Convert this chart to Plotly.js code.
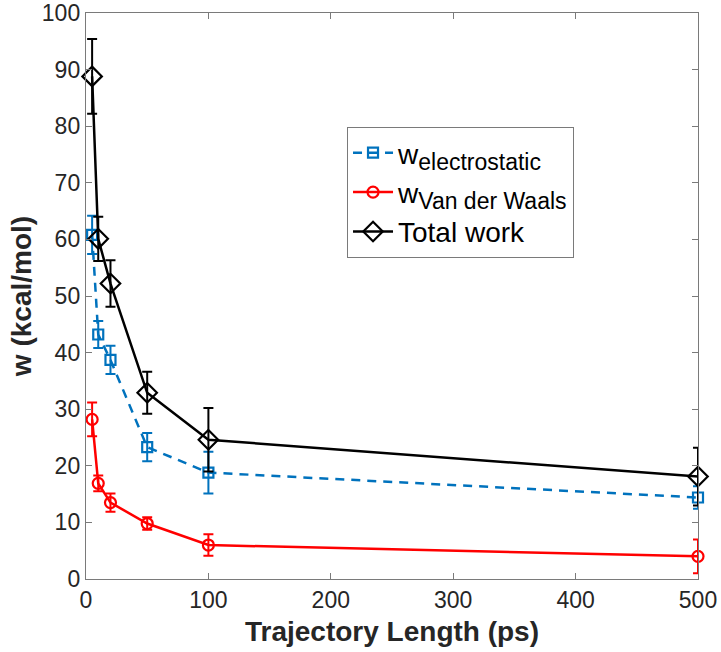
<!DOCTYPE html>
<html>
<head>
<meta charset="utf-8">
<script src="https://cdn.plot.ly/plotly-3.0.1.min.js"></script>
<style>html,body{margin:0;padding:0;background:#fff;}#chart{width:721px;height:652px;}</style>
</head>
<body>
<div id="chart"></div>
<script>
// Trajectory lengths (ps)
const trajLength = [5, 10, 20, 50, 100, 500];

// w electrostatic (kcal/mol) and error
const wElec = [60.8, 43.2, 38.7, 23.3, 18.8, 14.4];
const wElecErr = [3.4, 2.4, 2.5, 2.5, 3.7, 2.0];

// w Van der Waals (kcal/mol) and error
const wVdw = [28.2, 16.9, 13.5, 9.8, 6.0, 4.0];
const wVdwErr = [3.0, 1.4, 1.6, 1.1, 1.9, 3.0];

// Total work (kcal/mol) and error
const wTotal = [88.8, 60.1, 52.2, 32.9, 24.6, 18.1];
const wTotalErr = [6.6, 3.9, 4.1, 3.7, 5.6, 5.1];

const xTicks = [0, 100, 200, 300, 400, 500];
const yTicks = [0, 10, 20, 30, 40, 50, 60, 70, 80, 90, 100];

const seriesNames = [
  'w<sub><span style="font-size:23px">electrostatic</span></sub>',
  'w<sub><span style="font-size:23px">Van der Waals</span></sub>',
  'Total work'
];

const FONT = 'Liberation Sans, Arial, Helvetica, sans-serif';

const traces = [
  {
    x: trajLength, y: wElec, type: 'scatter', mode: 'lines+markers', cliponaxis: false,
    name: seriesNames[0],
    line: {color: '#0072BD', width: 2.5, dash: '9px,7px'},
    marker: {symbol: 'square-open', size: 10, color: '#0072BD', line: {width: 2.2}},
    error_y: {type: 'data', array: wElecErr, visible: true, color: '#0072BD', thickness: 2, width: 5}
  },
  {
    x: trajLength, y: wVdw, type: 'scatter', mode: 'lines+markers', cliponaxis: false,
    name: seriesNames[1],
    line: {color: '#FF0000', width: 2.5},
    marker: {symbol: 'circle-open', size: 11, color: '#FF0000', line: {width: 2.2}},
    error_y: {type: 'data', array: wVdwErr, visible: true, color: '#FF0000', thickness: 2, width: 5}
  },
  {
    x: trajLength, y: wTotal, type: 'scatter', mode: 'lines+markers', cliponaxis: false,
    name: seriesNames[2],
    line: {color: '#000000', width: 2.5},
    marker: {symbol: 'diamond-open', size: 15, color: '#000000', line: {width: 2.2}},
    error_y: {type: 'data', array: wTotalErr, visible: true, color: '#000000', thickness: 2, width: 5}
  }
];

const axisCommon = {
  showline: true, linecolor: '#7a7a7a', linewidth: 1.2, mirror: 'ticks',
  ticks: 'inside', ticklen: 6, tickcolor: '#7a7a7a', tickwidth: 1,
  showgrid: false, zeroline: false,
  tickfont: {family: FONT, size: 23, color: '#262626'}
};

const layout = {
  width: 721, height: 652,
  margin: {l: 86, r: 23, t: 13, b: 73},
  paper_bgcolor: '#ffffff', plot_bgcolor: '#ffffff',
  showlegend: true,
  xaxis: Object.assign({}, axisCommon, {
    range: [0, 500], tickvals: xTicks, ticktext: xTicks.map(String),
    title: {text: '<b>Trajectory Length (ps)</b>', font: {family: FONT, size: 28, color: '#262626'}, standoff: 9},
    automargin: false
  }),
  yaxis: Object.assign({}, axisCommon, {
    range: [0, 100], tickvals: yTicks, ticktext: yTicks.map(String),
    title: {text: '<b>w (kcal/mol)</b>', font: {family: FONT, size: 28, color: '#262626'}, standoff: 2},
    automargin: false
  }),
  legend: {
    x: 0.4265, y: 0.7986, xanchor: 'left', yanchor: 'top',
    bgcolor: '#ffffff', bordercolor: '#7a7a7a', borderwidth: 1,
    font: {family: FONT, size: 28, color: '#000000'},
    tracegroupgap: 4, itemwidth: 40
  }
};

Plotly.newPlot('chart', traces, layout, {displayModeBar: false, staticPlot: true});
</script>
</body>
</html>
